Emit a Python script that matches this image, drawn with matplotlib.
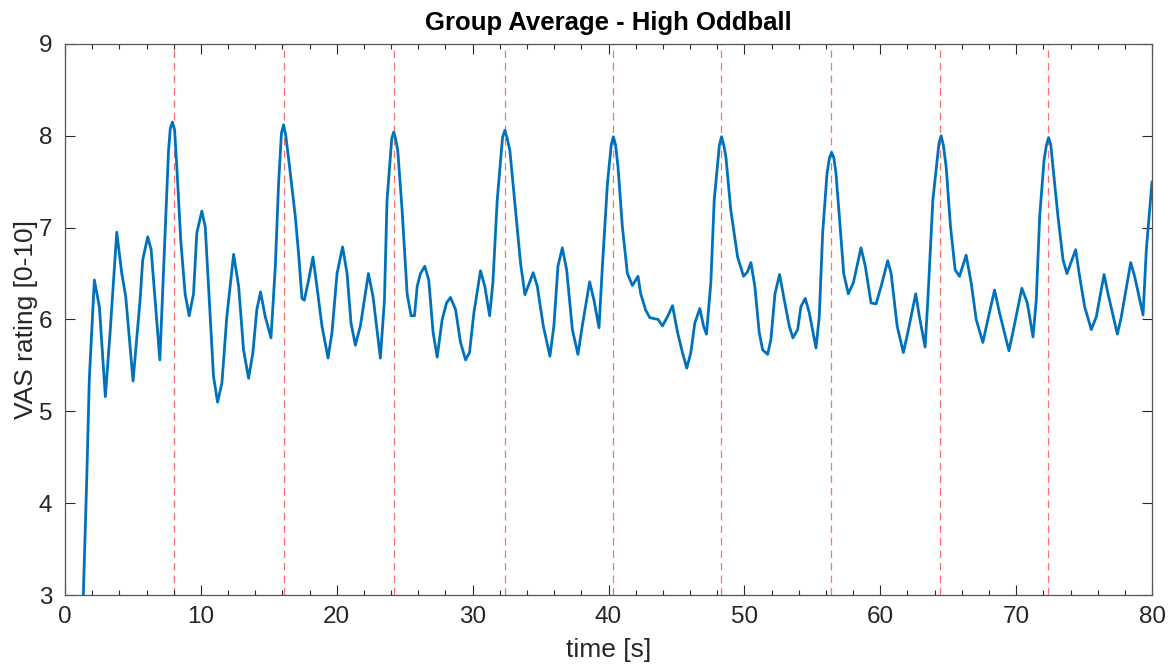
import matplotlib.pyplot as plt
import numpy as np
from matplotlib.ticker import MultipleLocator

plt.rcParams['font.family'] = ['Liberation Sans', 'DejaVu Sans']

# group average VAS rating
t = [1.35, 1.6, 1.79, 2.16, 2.53, 2.97, 3.32, 3.81, 4.18, 4.47, 5.01, 5.53, 5.72, 6.09, 6.34,
     6.98, 7.37, 7.62, 7.75, 7.91, 8.07, 8.23, 8.52, 8.84, 9.14, 9.46, 9.70, 10.07, 10.32, 10.69, 10.93,
     11.23, 11.55, 11.91, 12.41, 12.78, 13.14, 13.51, 13.83, 14.12, 14.39, 14.74, 15.16, 15.48,
     15.72, 15.93, 16.09, 16.25, 16.53, 16.95, 17.2, 17.44, 17.61, 17.93, 18.25, 18.54, 18.91, 19.36, 19.65,
     20.02, 20.43, 20.76, 21.05, 21.37, 21.74, 22.33, 22.67, 23.21, 23.51, 23.7, 24.05, 24.19, 24.33, 24.49,
     24.81, 25.18, 25.47, 25.72, 25.92, 26.16, 26.48, 26.77, 27.09, 27.39, 27.76, 28.08, 28.37,
     28.74, 29.11, 29.48, 29.77, 30.09, 30.58, 30.90, 31.25, 31.49, 31.81, 32.2, 32.37, 32.53, 32.74, 33.09,
     33.53, 33.85, 34.46, 34.76, 35.2, 35.69, 35.98, 36.28, 36.60, 36.92, 37.34, 37.75, 38.07,
     38.61, 38.93, 39.30, 39.55, 39.92, 40.2, 40.36, 40.52, 40.70, 41.02, 41.39, 41.76, 42.17, 42.37, 42.74,
     43.04, 43.65, 43.97, 44.34, 44.71, 45.08, 45.44, 45.76, 46.06, 46.35, 46.72, 46.99, 47.21,
     47.53, 47.78, 48.16, 48.32, 48.48, 48.64, 49.0, 49.5, 49.94, 50.23, 50.48, 50.77, 51.09, 51.34, 51.71,
     51.95, 52.25, 52.59, 52.94, 53.3, 53.57, 53.92, 54.16, 54.48, 54.78, 55.27, 55.51, 55.76,
     56.08, 56.26, 56.42, 56.58, 56.74, 56.99, 57.31, 57.65, 58.02, 58.58, 58.90, 59.32, 59.69, 60.06, 60.55,
     60.80, 61.24, 61.70, 62.03, 62.61, 62.88, 63.30, 63.5, 63.87, 64.32, 64.48, 64.64, 64.85, 65.17, 65.51,
     65.83, 66.32, 66.69, 67.06, 67.55, 67.92, 68.41, 68.78, 69.47, 69.76, 70.42, 70.82, 71.24,
     71.48, 71.73, 72.05, 72.23, 72.39, 72.55, 72.71, 73.08, 73.45, 73.74, 74.38, 74.67, 75.04, 75.53, 75.90,
     76.47, 76.76, 77.45, 77.74, 78.43, 78.72, 79.34, 79.58, 80.0]
vas = [3.0, 4.26, 5.35, 6.43, 6.14, 5.16, 5.86, 6.95, 6.50, 6.25, 5.33, 6.22, 6.65, 6.90, 6.76,
       5.56, 6.94, 7.84, 8.08, 8.15, 8.06, 7.66, 6.86, 6.28, 6.04, 6.28, 6.94, 7.18, 7.01, 6.03, 5.38,
       5.10, 5.31, 6.03, 6.71, 6.36, 5.67, 5.36, 5.64, 6.11, 6.30, 6.03, 5.80, 6.58,
       7.48, 8.03, 8.12, 8.0, 7.66, 7.12, 6.70, 6.23, 6.21, 6.43, 6.68, 6.36, 5.93, 5.58, 5.86,
       6.50, 6.79, 6.50, 5.96, 5.72, 5.93, 6.50, 6.25, 5.58, 6.21, 7.30, 7.97, 8.04, 7.97, 7.84,
       7.19, 6.28, 6.04, 6.04, 6.36, 6.50, 6.58, 6.43, 5.86, 5.59, 6.0, 6.18, 6.24,
       6.11, 5.75, 5.56, 5.64, 6.07, 6.53, 6.36, 6.04, 6.40, 7.30, 7.98, 8.06, 7.98, 7.84, 7.30,
       6.61, 6.27, 6.51, 6.36, 5.93, 5.60, 5.93, 6.58, 6.78, 6.54, 5.89, 5.62, 5.93,
       6.41, 6.21, 5.91, 6.58, 7.48, 7.90, 7.99, 7.90, 7.66, 7.01, 6.50, 6.37, 6.47, 6.28, 6.10,
       6.02, 6.0, 5.93, 6.03, 6.15, 5.86, 5.64, 5.47, 5.64, 5.96, 6.12, 5.93, 5.84,
       6.40, 7.30, 7.90, 7.99, 7.90, 7.77, 7.19, 6.68, 6.47, 6.52, 6.62, 6.36, 5.86, 5.67, 5.62,
       5.78, 6.28, 6.49, 6.21, 5.93, 5.80, 5.89, 6.14, 6.23, 6.07, 5.69, 6.03, 6.94,
       7.59, 7.76, 7.82, 7.76, 7.59, 7.12, 6.50, 6.28, 6.40, 6.78, 6.58, 6.18, 6.17, 6.36, 6.64,
       6.50, 5.93, 5.64, 5.86, 6.28, 6.03, 5.70, 6.21, 7.30, 7.92, 8.0, 7.90, 7.66, 7.01, 6.54,
       6.47, 6.70, 6.40, 6.0, 5.75, 6.0, 6.32, 6.07, 5.66, 5.86, 6.34, 6.18, 5.81,
       6.21, 7.12, 7.73, 7.90, 7.98, 7.90, 7.66, 7.12, 6.65, 6.50, 6.76, 6.47, 6.14, 5.89, 6.03,
       6.49, 6.28, 5.84, 6.03, 6.62, 6.47, 6.05, 6.76, 7.50]

# oddball onsets (red dashed markers)
onsets = [8.0, 16.1, 24.2, 32.35, 40.35, 48.3, 56.35, 64.4, 72.35]

fig = plt.figure(figsize=(11.71, 6.66), dpi=100)
ax = fig.add_axes([0.0555, 0.1066, 0.9283, 0.8274])

for x0 in onsets:
    ax.axvline(x0, color='#ff6f6f', linestyle=(0, (6, 4)), linewidth=0.9, zorder=1)
ax.plot(t, vas, color='#0072BD', linewidth=2.0, zorder=2,
        solid_joinstyle='round', solid_capstyle='round')

ax.set_xlim(0, 80)
ax.set_ylim(3, 9)
ax.xaxis.set_major_locator(MultipleLocator(10))
ax.xaxis.set_minor_locator(MultipleLocator(2))
ax.yaxis.set_major_locator(MultipleLocator(1))
ax.tick_params(which='both', direction='in', top=True, right=True, colors='#262626',
               labelsize=17.5, labelcolor='#262626', width=0.8)
ax.tick_params(which='major', length=7)
ax.tick_params(which='minor', length=3.5)
ax.tick_params(axis='x', pad=8)
ax.tick_params(axis='y', pad=9)
for s in ax.spines.values():
    s.set_color('#555555')
    s.set_linewidth(0.9)

ax.set_xlabel('time [s]', fontsize=19, color='#262626', labelpad=7)
ax.set_ylabel('VAS rating [0-10]', fontsize=19, color='#262626', labelpad=1)
ax.set_title('Group Average - High Oddball', fontsize=18.5, fontweight='bold', pad=10)

fig.savefig('out.png', dpi=100)
